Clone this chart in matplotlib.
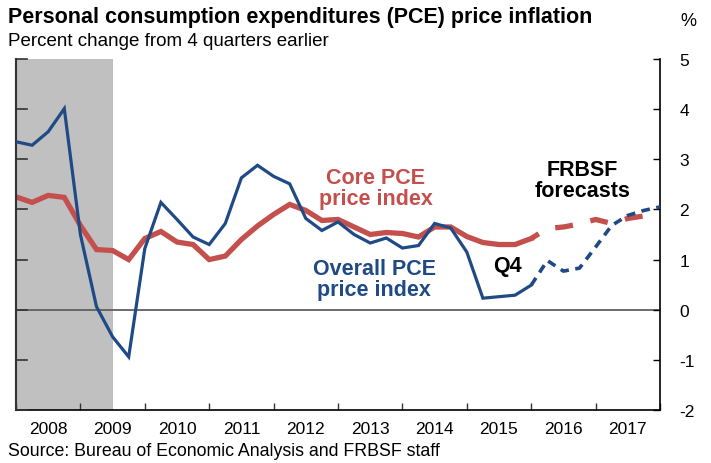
import numpy as np
import matplotlib
matplotlib.use("Agg")
import matplotlib.pyplot as plt

plt.rcParams['font.family'] = ['Liberation Sans', 'DejaVu Sans']
plt.rcParams['axes.unicode_minus'] = False

# Quarterly series, first point at start of 2008
overall_pce = [3.35, 3.28, 3.55, 4.01, 1.5, 0.06, -0.54, -0.94, 1.22, 2.14,
               1.80, 1.45, 1.30, 1.72, 2.63, 2.88, 2.66, 2.51, 1.82, 1.58,
               1.75, 1.50, 1.33, 1.43, 1.23, 1.28, 1.72, 1.63, 1.15, 0.23,
               0.26, 0.29, 0.49]
core_pce = [2.25, 2.14, 2.28, 2.24, 1.68, 1.20, 1.18, 1.00, 1.42, 1.56,
            1.35, 1.30, 1.00, 1.07, 1.40, 1.67, 1.90, 2.10, 1.98, 1.78,
            1.80, 1.65, 1.50, 1.54, 1.52, 1.45, 1.65, 1.65, 1.46, 1.34,
            1.30, 1.30, 1.42]
# FRBSF forecasts (start at last actual point)
overall_fcst = [0.49, 0.98, 0.77, 0.83, 1.25, 1.68, 1.88, 1.98, 2.05]
core_fcst = [1.42, 1.62, 1.65, 1.71, 1.80, 1.72, 1.82, 1.87, 1.90]

years = list(range(2008, 2018))
recession = (2008.0, 2009.5)

BLUE = "#1F4A85"
RED = "#C4504D"

x_hist = 2008 + np.arange(len(overall_pce)) / 4
x_fcst = x_hist[-1] + np.arange(len(overall_fcst)) / 4

fig = plt.figure(figsize=(7.11, 4.64), dpi=100)
ax = fig.add_axes([16 / 711, 1 - 411 / 464, 644 / 711, 351 / 464])

ax.axvspan(recession[0], recession[1], color="#C0C0C0", lw=0, zorder=0)
ax.axhline(0, color="#606060", lw=1.3, zorder=1)

ax.plot(x_hist, overall_pce, color=BLUE, lw=2.3, zorder=3,
        solid_joinstyle="miter")
ax.plot(x_hist, core_pce, color=RED, lw=3.8, zorder=2,
        solid_joinstyle="miter")
ax.plot(x_fcst, overall_fcst, color=BLUE, lw=2.6, ls=(0, (2.4, 1.8)),
        zorder=3)
ax.plot(x_fcst, core_fcst, color=RED, lw=3.8, ls=(1.7, (3.4, 3.4)), zorder=2)

ax.set_xlim(2008, 2018)
ax.set_ylim(-2, 5)

# x axis: ticks at year boundaries, labels mid-year
ax.set_xticks(range(2008, 2019))
ax.set_xticklabels([])
ax.set_xticks([y + 0.5 for y in years], minor=True)
ax.set_xticklabels([str(y) for y in years], minor=True, fontsize=12.5)
ax.tick_params(axis="x", which="major", direction="in", length=5,
               width=1, color="#333333", top=False)
ax.tick_params(axis="x", which="minor", length=0, pad=8)

# y axis: labels on the right, ticks inside on both sides
ax.set_yticks(range(-2, 6))
ax.yaxis.tick_right()
ax.tick_params(axis="y", which="major", direction="in", length=5,
               width=1, labelsize=12.5, pad=14, right=True, left=False)
for v in range(-2, 6):
    ax.plot([2008, 2008.17], [v, v], color="#333333", lw=1.2,
            clip_on=False, zorder=4)

ax.spines["top"].set_visible(False)
ax.spines["left"].set_color("#333333")
ax.spines["left"].set_linewidth(1.5)
ax.spines["right"].set_linewidth(1.2)
ax.spines["bottom"].set_linewidth(1.2)

# annotations
ax.text(2013.59, 2.43, "Core PCE\nprice index", color=RED, fontsize=15.5,
        fontweight="bold", ha="center", va="center", linespacing=1.0)
ax.text(2013.56, 0.62, "Overall PCE\nprice index", color=BLUE, fontsize=15.5,
        fontweight="bold", ha="center", va="center", linespacing=1.0)
ax.text(2016.80, 2.58, "FRBSF\nforecasts", color="black", fontsize=15.5,
        fontweight="bold", ha="center", va="center", linespacing=1.0)
ax.text(2015.63, 0.88, "Q4", color="black", fontsize=15.5,
        fontweight="bold", ha="center", va="center")

fig.text(8 / 711, 1 - 18 / 464, "Personal consumption expenditures (PCE) price inflation",
         fontsize=15.5, fontweight="bold", va="center", ha="left")
fig.text(8 / 711, 1 - 42 / 464, "Percent change from 4 quarters earlier",
         fontsize=13.5, va="center", ha="left")
fig.text(680 / 711, 1 - 22 / 464, "%", fontsize=13, va="center", ha="left")
fig.text(8 / 711, 1 - 452 / 464,
         "Source: Bureau of Economic Analysis and FRBSF staff",
         fontsize=12.8, va="center", ha="left")

fig.savefig("out.png", dpi=100)
